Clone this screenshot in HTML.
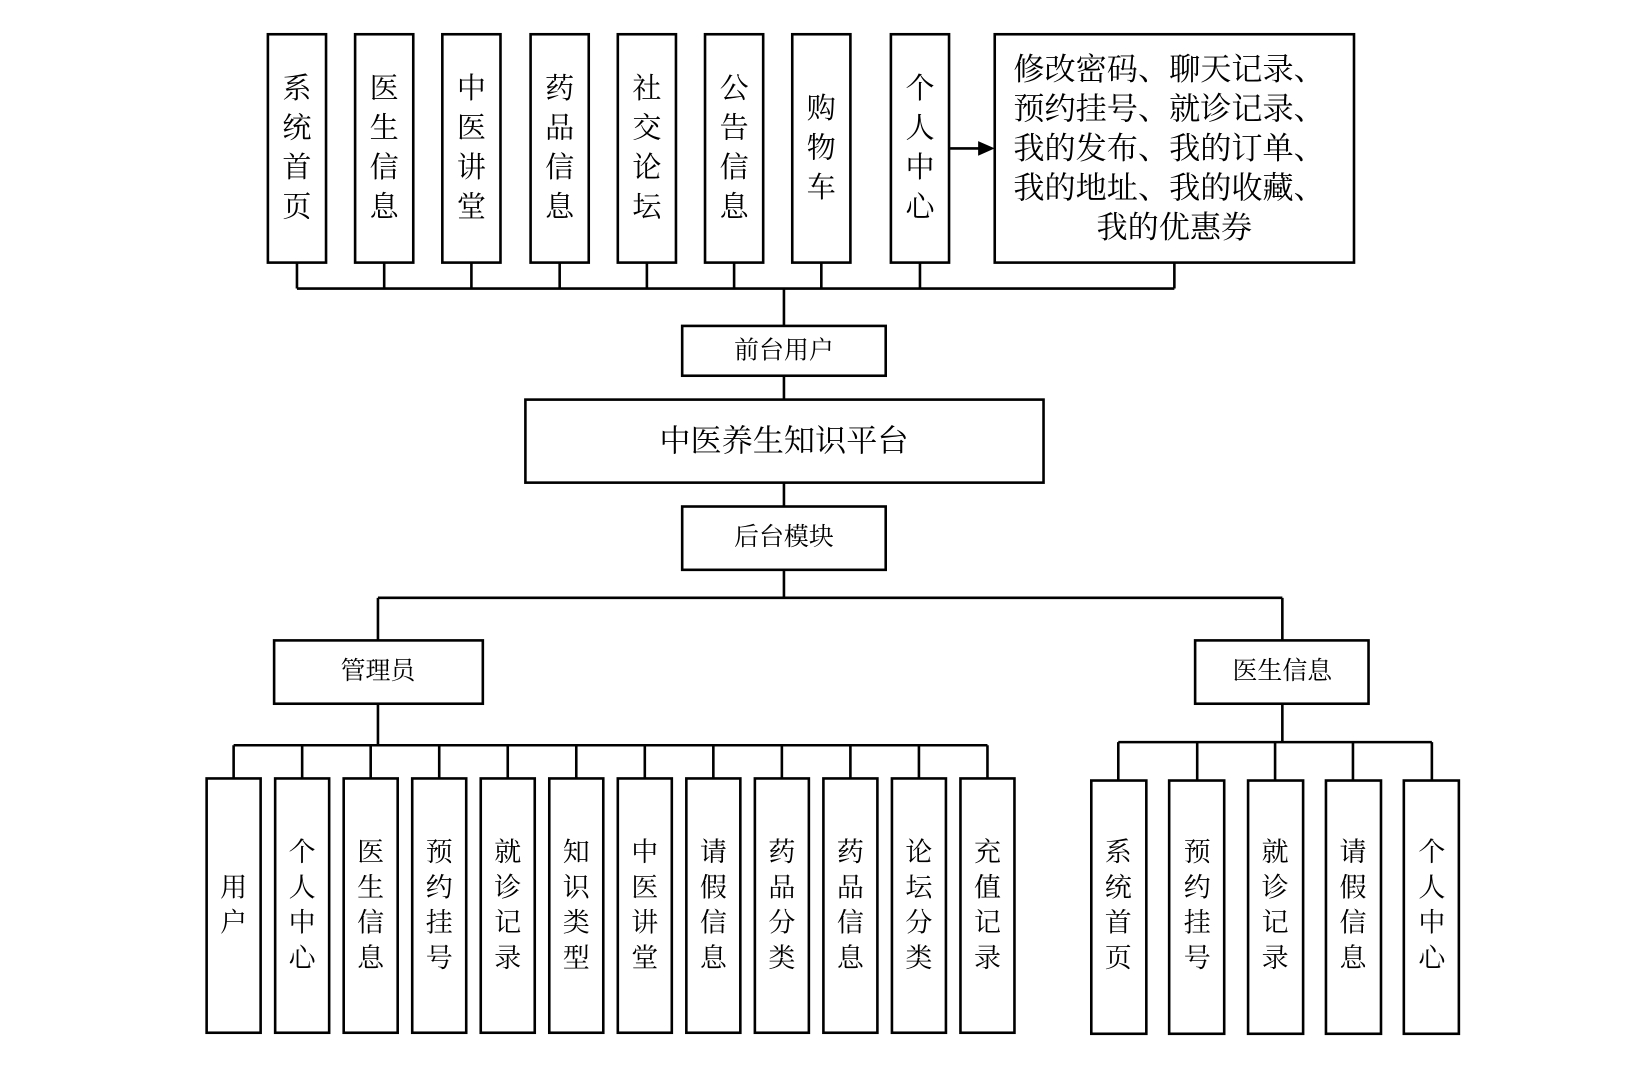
<!DOCTYPE html>
<html><head><meta charset="utf-8"><style>html,body{margin:0;padding:0;background:#fff}svg{display:block}</style></head><body>
<svg width="1625" height="1067" viewBox="0 0 1565 1028" preserveAspectRatio="none" xmlns="http://www.w3.org/2000/svg" font-family="'Liberation Serif','Noto Serif CJK SC',serif" fill="none" stroke="#000" stroke-width="2.5">
<g id="top">
<rect x="258" y="33" width="56" height="220"/><rect x="342" y="33" width="56" height="220"/><rect x="426" y="33" width="56" height="220"/><rect x="511" y="33" width="56" height="220"/><rect x="595" y="33" width="56" height="220"/><rect x="679" y="33" width="56" height="220"/><rect x="763" y="33" width="56" height="220"/><rect x="858" y="33" width="56" height="220"/>
<rect x="958" y="33" width="346" height="220"/>
<line x1="915" y1="143" x2="948" y2="143"/>
<polygon points="958,143 942,136 942,150" fill="#000" stroke="none"/>
<path d="M286 253V278M370 253V278M454 253V278M539 253V278M623 253V278M707 253V278M791 253V278M886 253V278M1131 253V278M286 278H1131M755 278V314"/>
<rect x="657" y="314" width="196" height="48"/><line x1="755" y1="362" x2="755" y2="385"/>
<rect x="506" y="385" width="499" height="80"/><line x1="755" y1="465" x2="755" y2="488"/>
<rect x="657" y="488" width="196" height="61"/>
<path d="M755 549V576M364 576H1235M364 576V617M1235 576V617"/>
<rect x="264" y="617" width="201" height="61"/><rect x="1151" y="617" width="167" height="61"/>
<path d="M364 678V718M225 718H951M225 718V750M291 718V750M357 718V750M423 718V750M489 718V750M555 718V750M621 718V750M687 718V750M753 718V750M819 718V750M885 718V750M951 718V750"/>
<path d="M1235 678V715M1077 715H1379M1077 715V752M1153 715V752M1228 715V752M1303 715V752M1379 715V752"/>
<rect x="199" y="750" width="52" height="245"/><rect x="265" y="750" width="52" height="245"/><rect x="331" y="750" width="52" height="245"/><rect x="397" y="750" width="52" height="245"/><rect x="463" y="750" width="52" height="245"/><rect x="529" y="750" width="52" height="245"/><rect x="595" y="750" width="52" height="245"/><rect x="661" y="750" width="52" height="245"/><rect x="727" y="750" width="52" height="245"/><rect x="793" y="750" width="52" height="245"/><rect x="859" y="750" width="52" height="245"/><rect x="925" y="750" width="52" height="245"/>
<rect x="1051" y="752" width="53" height="244"/><rect x="1126" y="752" width="53" height="244"/><rect x="1202" y="752" width="53" height="244"/><rect x="1277" y="752" width="53" height="244"/><rect x="1352" y="752" width="53" height="244"/>
</g>
<g fill="#000" stroke="none" font-size="28" text-anchor="middle" dominant-baseline="central">
<text x="286" y="86">系</text><text x="286" y="124">统</text><text x="286" y="162">首</text><text x="286" y="200">页</text>
<text x="370" y="86">医</text><text x="370" y="124">生</text><text x="370" y="162">信</text><text x="370" y="200">息</text>
<text x="454" y="86">中</text><text x="454" y="124">医</text><text x="454" y="162">讲</text><text x="454" y="200">堂</text>
<text x="539" y="86">药</text><text x="539" y="124">品</text><text x="539" y="162">信</text><text x="539" y="200">息</text>
<text x="623" y="86">社</text><text x="623" y="124">交</text><text x="623" y="162">论</text><text x="623" y="200">坛</text>
<text x="707" y="86">公</text><text x="707" y="124">告</text><text x="707" y="162">信</text><text x="707" y="200">息</text>
<text x="791" y="105">购</text><text x="791" y="143">物</text><text x="791" y="181">车</text>
<text x="886" y="86">个</text><text x="886" y="124">人</text><text x="886" y="162">中</text><text x="886" y="200">心</text>
<g text-anchor="start" font-size="30">
<text x="976" y="67">修改密码、聊天记录、</text>
<text x="976" y="105">预约挂号、就诊记录、</text>
<text x="976" y="143">我的发布、我的订单、</text>
<text x="976" y="181">我的地址、我的收藏、</text>
</g>
<text x="1131" y="219" font-size="30">我的优惠券</text>
<text x="755" y="338" font-size="24">前台用户</text>
<text x="755" y="425" font-size="30">中医养生知识平台</text>
<text x="755" y="518" font-size="24">后台模块</text>
<text x="364" y="647" font-size="24">管理员</text>
<text x="1235" y="647" font-size="24">医生信息</text>
<g font-size="26">
<text x="225" y="855">用</text><text x="225" y="889">户</text>
<text x="291" y="821">个</text><text x="291" y="855">人</text><text x="291" y="889">中</text><text x="291" y="923">心</text>
<text x="357" y="821">医</text><text x="357" y="855">生</text><text x="357" y="889">信</text><text x="357" y="923">息</text>
<text x="423" y="821">预</text><text x="423" y="855">约</text><text x="423" y="889">挂</text><text x="423" y="923">号</text>
<text x="489" y="821">就</text><text x="489" y="855">诊</text><text x="489" y="889">记</text><text x="489" y="923">录</text>
<text x="555" y="821">知</text><text x="555" y="855">识</text><text x="555" y="889">类</text><text x="555" y="923">型</text>
<text x="621" y="821">中</text><text x="621" y="855">医</text><text x="621" y="889">讲</text><text x="621" y="923">堂</text>
<text x="687" y="821">请</text><text x="687" y="855">假</text><text x="687" y="889">信</text><text x="687" y="923">息</text>
<text x="753" y="821">药</text><text x="753" y="855">品</text><text x="753" y="889">分</text><text x="753" y="923">类</text>
<text x="819" y="821">药</text><text x="819" y="855">品</text><text x="819" y="889">信</text><text x="819" y="923">息</text>
<text x="885" y="821">论</text><text x="885" y="855">坛</text><text x="885" y="889">分</text><text x="885" y="923">类</text>
<text x="951" y="821">充</text><text x="951" y="855">值</text><text x="951" y="889">记</text><text x="951" y="923">录</text>
<text x="1077" y="821">系</text><text x="1077" y="855">统</text><text x="1077" y="889">首</text><text x="1077" y="923">页</text>
<text x="1153" y="821">预</text><text x="1153" y="855">约</text><text x="1153" y="889">挂</text><text x="1153" y="923">号</text>
<text x="1228" y="821">就</text><text x="1228" y="855">诊</text><text x="1228" y="889">记</text><text x="1228" y="923">录</text>
<text x="1303" y="821">请</text><text x="1303" y="855">假</text><text x="1303" y="889">信</text><text x="1303" y="923">息</text>
<text x="1379" y="821">个</text><text x="1379" y="855">人</text><text x="1379" y="889">中</text><text x="1379" y="923">心</text>
</g>
</g>
</svg>
</body></html>
